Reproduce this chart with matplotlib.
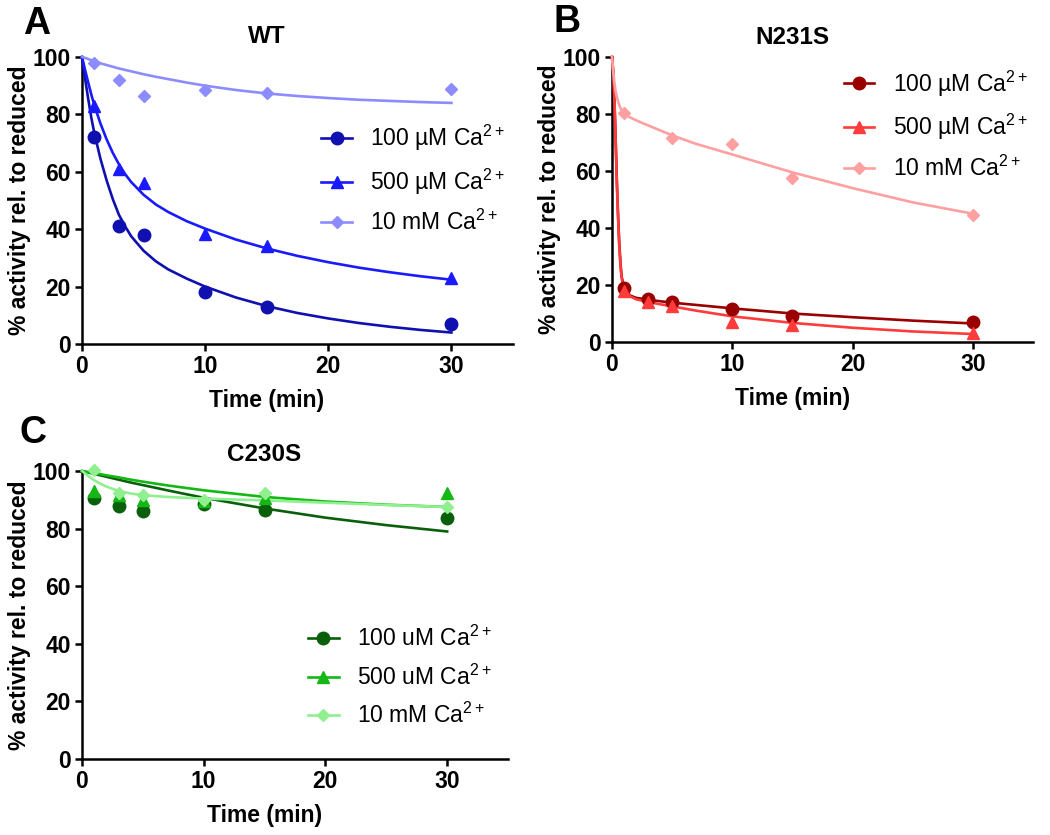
import matplotlib
matplotlib.use("Agg")
import matplotlib.pyplot as plt
from matplotlib.lines import Line2D

plt.rcParams['font.family'] = ['Liberation Sans', 'DejaVu Sans']
plt.rcParams['mathtext.fontset'] = 'custom'
plt.rcParams['mathtext.rm'] = 'Liberation Sans'

# sampling times of the measured points (min)
t_pts = [1, 3, 5, 10, 15, 30]
t_pts_b10 = [1, 5, 10, 15, 30]

# WT measured
wt_100 = [72, 41, 38, 18, 13, 7]
wt_500 = [83, 61, 56, 38.5, 34, 23]
wt_10m = [98, 92, 86.5, 88.5, 87.5, 89]

# N231S measured
n_100 = [19, 15, 14, 11.5, 9, 7]
n_500 = [18, 14, 12.5, 7, 6, 3]
n_10m = [80.5, 71.5, 69.5, 57.5, 44.5]

# C230S measured
c_100 = [90.5, 88, 86, 88.7, 86.5, 83.8]
c_500 = [93, 91.5, 90, 89.5, 90.5, 92.5]
c_10m = [100.5, 92.5, 91.5, 90, 92.5, 87.5]

# fitted curves
fit_t_a = [0, 0.25, 0.5, 0.75, 1, 1.5, 2, 2.5, 3, 3.5, 4, 5, 6, 7, 8.5, 10,
           12.5, 15, 17.5, 20, 22.5, 25, 27.5, 30]
fit_wt_100 = [100, 92.5, 85.5, 79, 73.5, 64.5, 57, 50.5, 45, 41, 37.5, 32.5, 28.8, 26, 22.8, 20,
              16.2, 13.2, 10.8, 8.9, 7.3, 6, 4.9, 4]
fit_wt_500 = [100, 95.5, 91.2, 87, 83.2, 76.8, 71.3, 66.6, 62.6, 59.2, 56.4, 52, 48.6, 46, 42.8, 40.2,
              36.4, 33.3, 30.7, 28.5, 26.6, 25, 23.6, 22.4]
fit_wt_10m = [100, 99.7, 99.3, 98.9, 98.5, 97.8, 97.2, 96.6, 96, 95.5, 95, 94, 93.1, 92.3, 91.1, 90,
              88.5, 87.3, 86.4, 85.7, 85.1, 84.7, 84.3, 84]

fit_t_b = [0, 0.1, 0.2, 0.3, 0.4, 0.5, 0.6, 0.7, 0.8, 1, 1.5, 2, 3, 5, 7, 10, 15, 20, 25, 30]
fit_n_100 = [100, 95, 85, 72, 57, 45, 35, 28, 23, 19, 16.3, 15.5, 14.8, 13.8, 13, 11.8, 10, 8.7, 7.5, 6.5]
fit_n_500 = [100, 95, 85, 71, 56, 44, 34, 27, 22.5, 18.5, 16, 15, 14, 12.5, 11, 9, 6.7, 5, 3.7, 2.8]
fit_n_10m = [100, 95, 91, 88, 86, 84.5, 83.2, 82.2, 81.4, 80.3, 78.8, 77.8, 76, 72.5, 69.5, 65.8, 59.5, 54, 49, 45]

fit_t_c = [0, 0.5, 1, 1.5, 2, 3, 4, 5, 7, 10, 15, 20, 25, 30]
fit_c_100 = [100, 99.5, 99, 98.5, 98, 97, 96, 95.1, 93.3, 90.7, 87, 83.8, 81.2, 79]
fit_c_500 = [100, 99.6, 99.3, 98.9, 98.5, 97.8, 97, 96.3, 95, 93.3, 91, 89.4, 88.3, 87.5]
fit_c_10m = [100, 98.3, 96.8, 95.6, 94.6, 93.1, 92.2, 91.6, 91, 90.4, 89.8, 89, 88.2, 87.5]

labels_u = ['100 \u00b5M Ca$^{\\mathregular{2+}}$', '500 \u00b5M Ca$^{\\mathregular{2+}}$', '10 mM Ca$^{\\mathregular{2+}}$']
labels_c = ['100 uM Ca$^{\\mathregular{2+}}$', '500 uM Ca$^{\\mathregular{2+}}$', '10 mM Ca$^{\\mathregular{2+}}$']
markers = ['o', '^', 'D']
msizes = [9, 9, 6.5]

W, H = 1050, 835
fig = plt.figure(figsize=(W / 100, H / 100), dpi=100)


def px_axes(x0, y0, x1, y1):
    return fig.add_axes([x0 / W, 1 - y1 / H, (x1 - x0) / W, (y1 - y0) / H])


def style(ax, title, title_y):
    ax.set_xlim(0, 35)
    ax.set_ylim(0, 100)
    ax.set_xticks([0, 10, 20, 30])
    ax.set_yticks([0, 20, 40, 60, 80, 100])
    for s in ['top', 'right']:
        ax.spines[s].set_visible(False)
    for s in ['left', 'bottom']:
        ax.spines[s].set_linewidth(1.8)
    ax.tick_params(width=1.8, length=5, pad=3, labelsize=16.5)
    for lab in ax.get_xticklabels() + ax.get_yticklabels():
        lab.set_fontweight('bold')
    ax.set_xlabel('Time (min)', fontsize=16.5, fontweight='bold', labelpad=8)
    ax.xaxis.label.set_x(15 / 35)
    ax.set_ylabel('% activity rel. to reduced', fontsize=16.5, fontweight='bold', labelpad=1)
    ax.text(15, title_y, title, ha='center', va='center', fontsize=17.5, fontweight='bold')


def draw(ax, series, colors, labels, legend_pos):
    handles = []
    for (tp, yp, ft, fy), c, m, ms, lab in zip(series, colors, markers, msizes, labels):
        ax.plot(ft, fy, color=c, lw=1.9, clip_on=False, zorder=3)
        ax.plot(tp, yp, ls='none', marker=m, ms=ms, color=c, mec=c, clip_on=False, zorder=4)
        handles.append(Line2D([], [], color=c, lw=1.9, marker=m, ms=ms))
    ax.legend(handles, labels, loc='upper left', bbox_to_anchor=legend_pos, frameon=False,
              fontsize=16.5, handlelength=1.35, handletextpad=0.8, labelspacing=0.58,
              borderaxespad=0, borderpad=0)


# panel A
axA = px_axes(82, 57, 513, 344)
style(axA, 'WT', 107.3)
draw(axA, [(t_pts, wt_100, fit_t_a, fit_wt_100),
           (t_pts, wt_500, fit_t_a, fit_wt_500),
           (t_pts, wt_10m, fit_t_a, fit_wt_10m)],
     ['#1010b0', '#1a1aff', '#8c8cff'], labels_u, (0.555, 0.77))

# panel B
axB = px_axes(612, 57, 1033, 342)
style(axB, 'N231S', 107)
draw(axB, [(t_pts, n_100, fit_t_b, fit_n_100),
           (t_pts, n_500, fit_t_b, fit_n_500),
           (t_pts_b10, n_10m, fit_t_b, fit_n_10m)],
     ['#990000', '#ff3b3b', '#ffa0a0'], labels_u, (0.55, 0.96))

# panel C
axC = px_axes(82, 471, 508, 759)
style(axC, 'C230S', 105.6)
draw(axC, [(t_pts, c_100, fit_t_c, fit_c_100),
           (t_pts, c_500, fit_t_c, fit_c_500),
           (t_pts, c_10m, fit_t_c, fit_c_10m)],
     ['#0a600a', '#14b814', '#90f090'], labels_c, (0.53, 0.462))

for letter, x, y in [('A', 37, 24), ('B', 567, 22), ('C', 33, 433)]:
    fig.text(x / W, 1 - y / H, letter, ha='center', va='center', fontsize=27, fontweight='bold')

fig.savefig('out.png', dpi=100)
